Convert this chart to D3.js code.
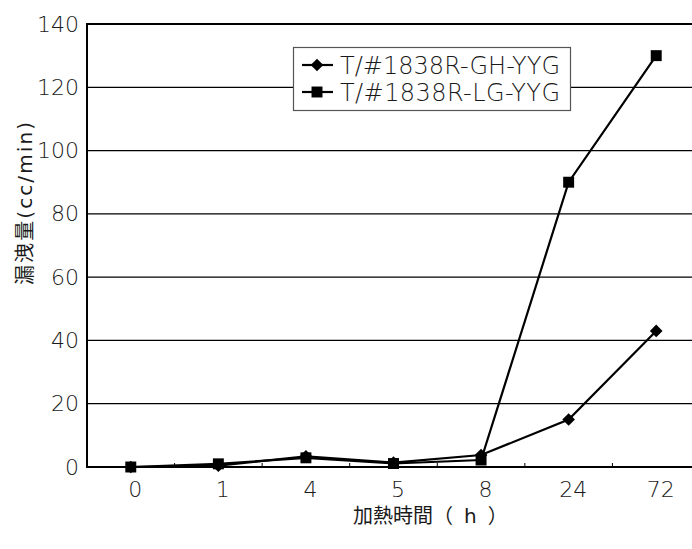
<!DOCTYPE html>
<html><head><meta charset="utf-8">
<script src="https://cdn.jsdelivr.net/npm/d3@7"></script>
<style>body{margin:0;background:#fff}svg{display:block}text{font-family:"DejaVu Sans","Noto Sans CJK JP",sans-serif;fill:#1a1a1a}</style>
</head><body>
<script>
const categories = ["0","1","4","5","8","24","72"];
const seriesNames = ["T/#1838R-GH-YYG","T/#1838R-LG-YYG"];
const ghValues = [0, 0.4, 3.4, 1.4, 3.8, 15, 43];
const lgValues = [0, 1.0, 2.9, 1.1, 2.2, 90, 130];
const yTicks = [0,20,40,60,80,100,120,140];
const xTitleMain = "加熱時間";
const xTitleUnit = "（h）";
const yTitle = "漏洩量(cc/min)";

const W=692,H=549;
const m={l:87,t:24,r:700,b:467};
const FONT='"DejaVu Sans","Noto Sans CJK JP",sans-serif';
const svg=d3.select("body").append("svg").attr("width",W).attr("height",H);
const x=d3.scalePoint().domain(categories).range([m.l,m.r]).padding(0.5);
const y=d3.scaleLinear().domain([0,140]).range([m.b,m.t]);

// gridlines
svg.append("g").selectAll("line").data(yTicks.filter(d=>d>0)).join("line")
  .attr("x1",m.l).attr("x2",W).attr("y1",d=>y(d)).attr("y2",d=>y(d))
  .attr("stroke","#000").attr("stroke-width",d=>d===140?2:1.2);

// y axis
const ya=svg.append("g").attr("transform",`translate(${m.l},0)`)
  .call(d3.axisLeft(y).tickValues(yTicks).tickSize(0).tickPadding(8));
ya.select(".domain").remove();
ya.selectAll("text").attr("font-size",22).attr("font-weight",200).attr("fill","#1a1a1a").attr("font-family",FONT);
svg.append("line").attr("x1",m.l).attr("x2",m.l).attr("y1",m.t-1).attr("y2",m.b+1).attr("stroke","#000").attr("stroke-width",2);

// x axis
const step=x.step();
svg.append("line").attr("x1",m.l).attr("x2",W).attr("y1",m.b).attr("y2",m.b).attr("stroke","#000").attr("stroke-width",2);
svg.append("g").selectAll("line").data(categories.slice(1)).join("line")
  .attr("x1",d=>x(d)-step/2).attr("x2",d=>x(d)-step/2).attr("y1",m.b).attr("y2",m.b-4).attr("stroke","#000");
const xa=svg.append("g").attr("transform",`translate(4,${m.b})`)
  .call(d3.axisBottom(x).tickSize(0).tickPadding(14));
xa.select(".domain").remove();
xa.selectAll("text").attr("font-size",22).attr("font-weight",200).attr("fill","#1a1a1a").attr("font-family",FONT);

// titles
const xt=svg.append("text").attr("x",353).attr("y",523).attr("font-size",20).attr("fill","#1a1a1a");
xt.append("tspan").text(xTitleMain);
xt.append("tspan").attr("letter-spacing",11).text(xTitleUnit);
svg.append("text").attr("transform","translate(32,285) rotate(-90)").attr("font-size",20)
  .attr("fill","#1a1a1a").attr("textLength",163).attr("lengthAdjust","spacing").text(yTitle);

// series
const line=d3.line().x((d,i)=>x(categories[i])).y(d=>y(d));
const diamondPath=d3.symbol().type(d3.symbolSquare).size(80);
const square=d3.symbol().type(d3.symbolSquare).size(120);
function drawSeries(vals,sym,rot){
  svg.append("path").attr("d",line(vals)).attr("fill","none").attr("stroke","#000").attr("stroke-width",2.2);
  svg.append("g").selectAll("path").data(vals).join("path")
    .attr("transform",(d,i)=>`translate(${x(categories[i])},${y(d)}) rotate(${rot})`).attr("d",sym).attr("fill","#000");
}
drawSeries(ghValues,diamondPath,45);
drawSeries(lgValues,square,0);

// legend
const lg=svg.append("g");
lg.append("rect").attr("x",293.5).attr("y",47.5).attr("width",277).attr("height",63).attr("fill","#fff").attr("stroke","#555").attr("stroke-width",1.2);
const rows=[{n:seriesNames[0],s:diamondPath,r:45,y:65},{n:seriesNames[1],s:square,r:0,y:92}];
rows.forEach(r=>{
  lg.append("line").attr("x1",302).attr("x2",333).attr("y1",r.y).attr("y2",r.y).attr("stroke","#000").attr("stroke-width",2.2);
  lg.append("path").attr("transform",`translate(317,${r.y}) rotate(${r.r})`).attr("d",r.s).attr("fill","#000");
  lg.append("text").attr("x",340).attr("y",r.y+8.5).attr("font-size",24).attr("font-weight",200)
    .attr("textLength",220).attr("lengthAdjust","spacing").text(r.n);
});
</script>
</body></html>
